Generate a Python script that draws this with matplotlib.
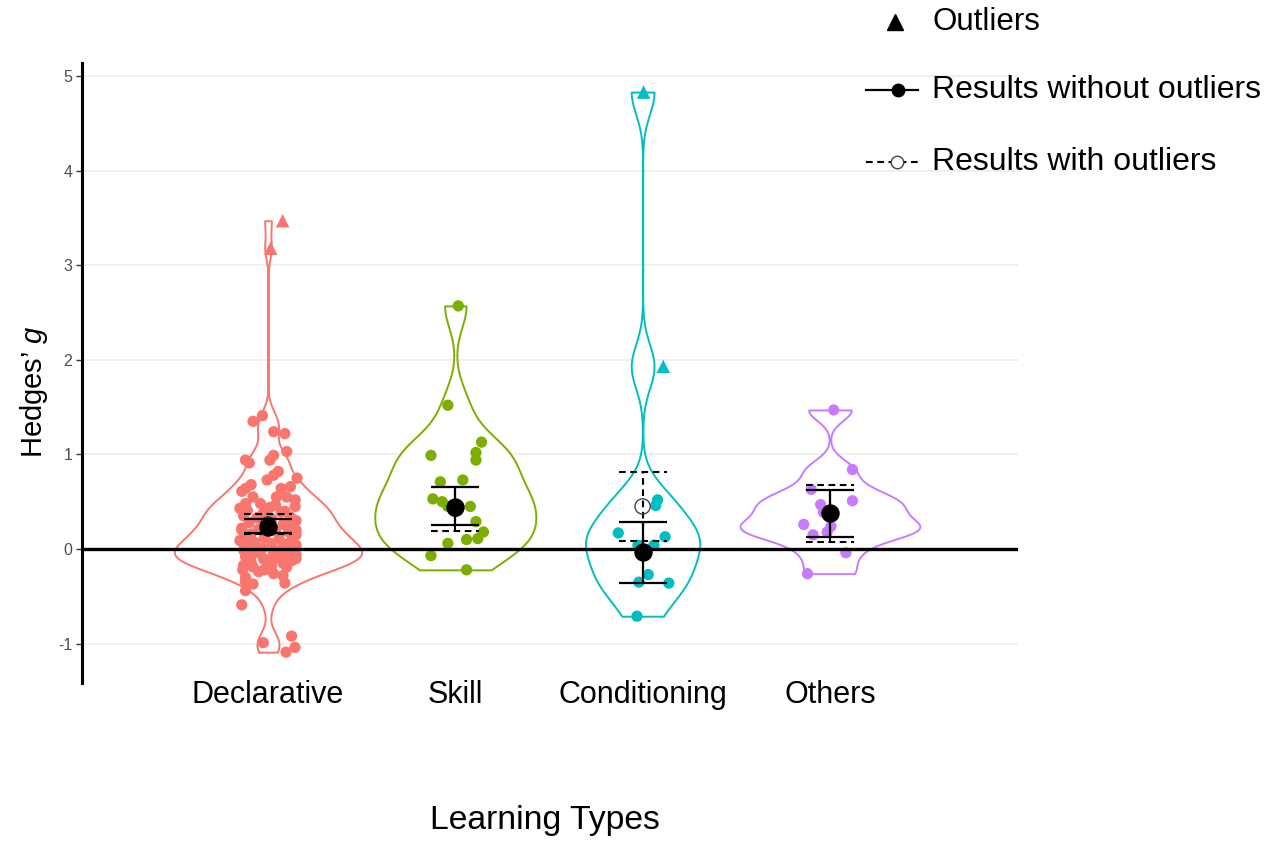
import numpy as np
import matplotlib
matplotlib.use("Agg")
import matplotlib.pyplot as plt
from matplotlib.lines import Line2D

plt.rcParams['font.family'] = ['Liberation Sans', 'DejaVu Sans']
plt.rcParams['mathtext.fontset'] = 'custom'
plt.rcParams['mathtext.it'] = 'Liberation Sans:italic'
plt.rcParams['mathtext.rm'] = 'Liberation Sans'

# ---------------- data ----------------
categories = ["Declarative", "Skill", "Conditioning", "Others"]
colors = ["#F8766D", "#7CAE00", "#00BFC4", "#C77CFF"]

decl_values = [1.41, 1.35, 1.24, 1.22, 1.03, 0.99, 0.94, 0.91, 0.94, 0.82, 0.78, 0.73, 0.75,
               0.68, 0.64, 0.61, 0.64, 0.66, 0.55, 0.55, 0.55, 0.52, 0.48, 0.48, 0.465, 0.45,
               0.41, 0.39, 0.38,
               0.20, 0.20, 0.08, 0.04, -0.08, -0.05, -0.10, -0.08, -0.08, -0.10, -0.22, -0.19,
               -0.22, -0.26, -0.19, -0.35, -0.37, -0.36, -0.44, -0.59, -0.99, -0.92, -1.04, -1.09,
               0.35, 0.33, 0.32, 0.34, 0.30, 0.28, 0.27, 0.26, 0.25, 0.22, 0.21, 0.19, 0.18, 0.16,
               0.15, 0.13, 0.12, 0.11, 0.10, 0.09, 0.07, 0.06, 0.05, 0.03, 0.02, 0.01, 0.00, -0.01,
               -0.02, -0.03, -0.04, -0.06, -0.07, -0.09, -0.11, -0.12, -0.14, -0.15, -0.17, -0.18,
               -0.13, -0.24, -0.28, -0.30, 0.40, 0.43, 0.44]
decl_jitter = [-0.03, -0.08, 0.03, 0.09, 0.10, 0.03, -0.12, -0.10, 0.01, 0.055, 0.03, -0.005, 0.155,
               -0.09, -0.12, -0.14, 0.07, 0.12, -0.08, 0.10, 0.045, 0.145, -0.12, -0.04, 0.04, 0.145,
               -0.11, 0.07, -0.025,
               -0.14, 0.15, -0.14, 0.15, -0.12, -0.08, -0.025, 0.03, 0.08, 0.15, -0.135, -0.08,
               -0.02, 0.03, 0.10, -0.12, -0.08, 0.09, -0.12, -0.14, -0.025, 0.126, 0.144, 0.096,
               -0.13, -0.06, 0.02, 0.12, 0.15, -0.10, -0.02, 0.08, 0.13, -0.14, -0.05, 0.04, 0.11, -0.09,
               0.15, -0.12, -0.02, 0.06, 0.13, -0.15, -0.07, 0.02, 0.10, -0.11, 0.14, -0.03, 0.07, -0.13,
               0.12, -0.06, 0.03, 0.15, -0.11, 0.05, -0.02, 0.13, -0.09, 0.08, -0.13, 0.02,
               0.10, -0.05, 0.08, -0.12, 0.09, -0.15, 0.01]
decl_out_values = [3.47, 3.18]
decl_out_jitter = [0.078, 0.014]

skill_values = [2.57, 1.52, 1.13, 0.99, 1.02, 0.94, 0.71, 0.73, 0.53, 0.50, 0.45, 0.45,
                0.29, 0.18, 0.11, 0.10, 0.06, -0.07, -0.22]
skill_jitter = [0.016, -0.04, 0.14, -0.13, 0.11, 0.11, -0.08, 0.04, -0.12, -0.07, -0.04, 0.08,
                0.11, 0.15, 0.12, 0.06, -0.04, -0.13, 0.06]

cond_values = [0.52, 0.46, 0.17, 0.13, 0.04, 0.04, -0.27, -0.35, -0.36, -0.71]
cond_jitter = [0.08, 0.07, -0.13, 0.12, -0.025, 0.06, 0.03, -0.02, 0.14, -0.03]
cond_out_values = [4.83, 1.93]
cond_out_jitter = [0.005, 0.11]

other_values = [1.47, 0.84, 0.63, 0.51, 0.47, 0.39, 0.26, 0.24, 0.18, 0.15, -0.04, -0.26]
other_jitter = [0.02, 0.12, -0.10, 0.12, -0.05, -0.035, -0.14, 0.005, -0.015, -0.09, 0.085, -0.12]

# meta-analytic summaries
mean_without = [0.236, 0.447, -0.03, 0.377]
low_without = [0.166, 0.25, -0.36, 0.13]
high_without = [0.314, 0.66, 0.29, 0.624]
mean_with = [0.26, 0.425, 0.45, 0.373]
low_with = [0.155, 0.19, 0.09, 0.07]
high_with = [0.367, 0.66, 0.81, 0.676]

violin_widths = [1.0, 0.86, 0.61, 0.96]
bw_adjust = 0.75

# ---------------- figure ----------------
W, H = 1281, 844
fig = plt.figure(figsize=(W / 100, H / 100), dpi=100)
ax = fig.add_axes([82 / W, 1 - 683 / H, (1018 - 82) / W, (683 - 63) / H])

positions = np.arange(1, len(categories) + 1)
points = [decl_values, skill_values, cond_values, other_values]
jitters = [decl_jitter, skill_jitter, cond_jitter, other_jitter]
outs = [decl_out_values, [], cond_out_values, []]
out_jit = [decl_out_jitter, [], cond_out_jitter, []]


def nrd0(kde):
    d = np.asarray(kde.dataset).ravel()
    sd = d.std(ddof=1)
    q75, q25 = np.percentile(d, [75, 25])
    h = 0.9 * min(sd, (q75 - q25) / 1.34) * len(d) ** -0.2
    return bw_adjust * h / sd


for i, pos in enumerate(positions):
    data = np.array(list(points[i]) + list(outs[i]), dtype=float)
    vp = ax.violinplot([data], positions=[pos], widths=violin_widths[i],
                       showextrema=False, points=512, bw_method=nrd0)
    for b in vp['bodies']:
        b.set_facecolor('white')
        b.set_edgecolor(colors[i])
        b.set_alpha(1)
        b.set_linewidth(1.4)
        b.set_zorder(2)
    ax.scatter(pos + np.array(jitters[i]), points[i], s=66, color=colors[i],
               edgecolors='none', zorder=4)
    if len(outs[i]):
        ax.scatter(pos + np.array(out_jit[i]), outs[i], s=95, marker='^',
                   color=colors[i], edgecolors='none', zorder=4)

ax.axhline(0, color='black', lw=2.4, zorder=5)

cap = 0.128
dash = (0, (3.2, 2.2))
# with outliers (dashed)
ax.vlines(positions, low_with, high_with, colors='black', lw=1.5, linestyles=dash, zorder=6)
ax.hlines(low_with, positions - cap, positions + cap, colors='black', lw=1.5, linestyles=dash, zorder=6)
ax.hlines(high_with, positions - cap, positions + cap, colors='black', lw=1.5, linestyles=dash, zorder=6)
ax.scatter(positions, mean_with, s=120, facecolors='none', edgecolors='#444444', lw=1.0, zorder=6)
# without outliers (solid)
ax.vlines(positions, low_without, high_without, colors='black', lw=1.6, zorder=7)
ax.hlines(low_without, positions - cap, positions + cap, colors='black', lw=1.6, zorder=7)
ax.hlines(high_without, positions - cap, positions + cap, colors='black', lw=1.6, zorder=7)
ax.scatter(positions, mean_without, s=150, color='black', zorder=8)

ax.set_xlim(0.007, 5.004)
ax.set_ylim(-1.416, 5.137)
ax.set_xticks(positions)
ax.set_xticklabels(categories)
ax.set_yticks([-1, 0, 1, 2, 3, 4, 5])
ax.set_yticklabels(['-1', '0', '1', '2', '3', '4', '5'])
ax.tick_params(axis='x', length=0, labelsize=22, pad=-2, labelcolor='black')
ax.tick_params(axis='y', length=4, width=1, color='#333333', labelsize=11.5,
               labelcolor='#4D4D4D', pad=3)
ax.yaxis.grid(True, color='#EBEBEB', lw=1.1)
ax.set_axisbelow(True)
for s in ['top', 'right', 'bottom']:
    ax.spines[s].set_visible(False)
ax.spines['left'].set_linewidth(2.2)
ax.spines['left'].set_color('black')

fig.text(545 / W, 1 - 820 / H, "Learning Types", ha='center', va='center', fontsize=24.3)
fig.text(34 / W, 1 - 392 / H, "Hedges’ $\\it{g}$", ha='center', va='center', rotation=90,
         fontsize=21)

# legend (manual)
tf = fig.transFigure
def fx(x):
    return x / W
def fy(y):
    return 1 - y / H

fig.add_artist(Line2D([fx(895)], [fy(22)], marker='^', color='black', markersize=12,
                      linestyle='none', transform=tf))
fig.text(fx(932), fy(22), "Outliers", ha='left', va='center', fontsize=22.5)
fig.add_artist(Line2D([fx(866), fx(918)], [fy(90), fy(90)], color='black', lw=1.6, transform=tf))
fig.add_artist(Line2D([fx(898)], [fy(90)], marker='o', color='black', markersize=9,
                      linestyle='none', transform=tf))
fig.text(fx(932), fy(90), "Results without outliers", ha='left', va='center', fontsize=23)
fig.add_artist(Line2D([fx(866), fx(918)], [fy(162), fy(162)], color='black', lw=1.5,
                      linestyle=(0, (3.2, 2.2)), transform=tf))
fig.add_artist(Line2D([fx(897)], [fy(162)], marker='o', markerfacecolor='white',
                      markeredgecolor='#444444', markersize=9, linestyle='none', transform=tf))
fig.text(fx(932), fy(162), "Results with outliers", ha='left', va='center', fontsize=23)

fig.savefig("out.png", dpi=100, facecolor='white')
